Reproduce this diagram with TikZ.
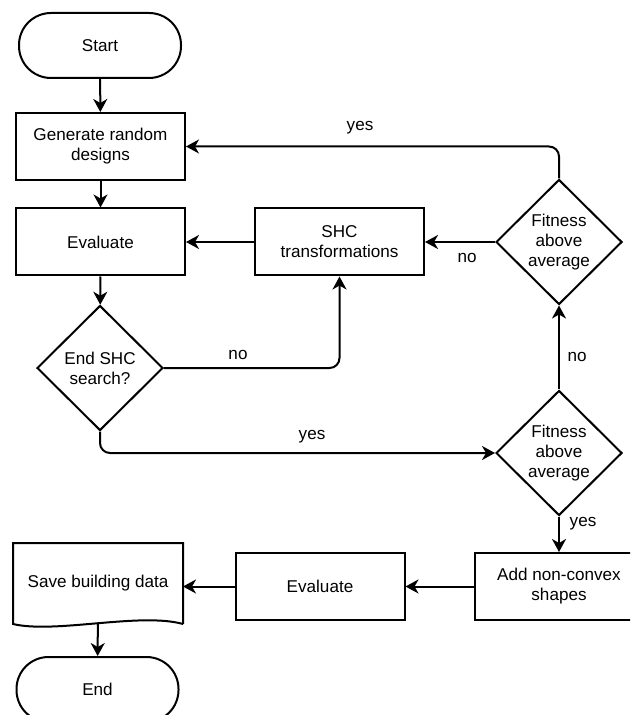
\documentclass[tikz,border=0pt]{standalone}
\usepackage{fontspec}
\setmainfont{Liberation Sans}
\usetikzlibrary{shapes.geometric,arrows.meta}

\begin{document}
\begin{tikzpicture}[x=0.5pt,y=-0.5pt,line width=1pt,>={Stealth[length=6.5pt,width=7pt,inset=2pt]}]
    \tikzstyle{every node}=[font=\fontsize{8.55}{10}\selectfont]
    \tikzstyle{process}=[rectangle,draw=black,align=center,minimum width=84.5pt,minimum height=33.5pt,inner sep=0pt]
    \tikzstyle{terminal}=[rectangle,rounded corners=16pt,draw=black,minimum width=81pt,minimum height=32.5pt]
    \tikzstyle{decision}=[diamond,draw=black,align=center,aspect=1,minimum width=63pt,minimum height=62.5pt,inner sep=0pt]
    \tikzstyle{flow}=[->,rounded corners=5pt]
    \useasboundingbox (0,0) rectangle (630,715);
    \clip (0,0) rectangle (630,715);

    \node[terminal] (start) at (100,45.5) {Start};
    \node[process] (gen) at (100.5,146.5) {Generate random\\designs};
    \node[process] (eval1) at (100.5,242) {Evaluate};
    \node[decision] (endshc) at (100,368) {End SHC\\search?};
    \node[process] (shc) at (339.5,242) {SHC\\transformations};
    \node[decision] (fit1) at (559,242) {Fitness\\above\\average};
    \node[decision] (fit2) at (559,453) {Fitness\\above\\average};
    \node[process] (addnc) at (559,586.5) {Add non-convex\\shapes};
    \node[process] (eval2) at (320,586.5) {Evaluate};
    \node[minimum width=84pt,minimum height=39.5pt,inner sep=0pt] (save) at (98,583.5) {Save building data};
    \draw (save.south east) -- (save.north east) -- (save.north west) -- (save.south west)
        .. controls (55,634) and (140,612) .. (save.south east);
    \node[terminal] (end) at (97.5,689.5) {End};

    \foreach \from/\to in {start/gen, gen/eval1, eval1/endshc, shc/eval1, fit1/shc, fit2/fit1, fit2/addnc, addnc/eval2, save/end}
        \draw[->] (\from) -- (\to);
    \draw[->] (eval2.west) -- (eval2.west -| save.east);

    % loops back
    \draw[flow] (fit1.north) |- (gen.east);
    \draw[flow] (endshc.east) -| (shc.south);
    \draw[flow] (endshc.south) |- (fit2.west);

    \node (yes1) at (360,128) {yes};
    \node (no1) at (467,258) {no};
    \node (no2) at (238,355) {no};
    \node (yes2) at (312,437) {yes};
    \node (no3) at (577,357) {no};
    \node (yes3) at (583,524) {yes};
\end{tikzpicture}
\end{document}
